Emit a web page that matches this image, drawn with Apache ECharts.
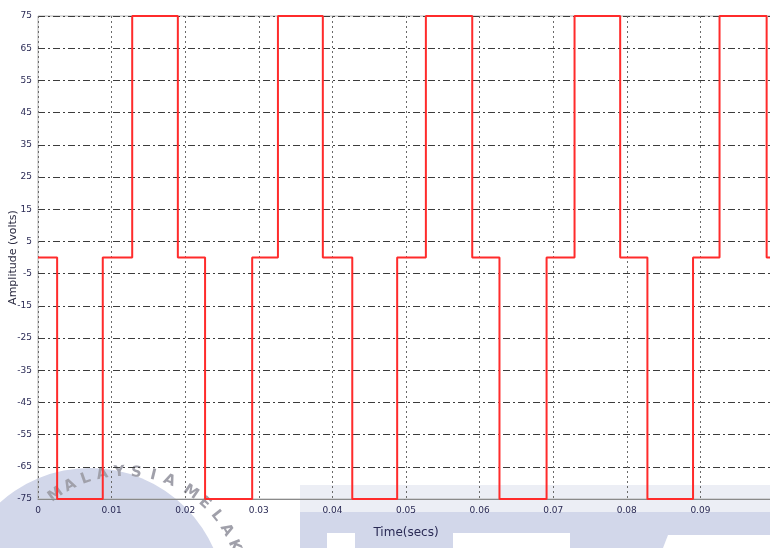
<!DOCTYPE html>
<html>
<head>
<meta charset="utf-8">
<title>Three-level output voltage</title>
<script src="https://cdn.jsdelivr.net/npm/echarts@6/dist/echarts.min.js"></script>
<style>
  html, body { margin: 0; padding: 0; background: #ffffff; }
  #chart { width: 770px; height: 548px; }
</style>
</head>
<body>
<div id="chart"></div>
<script>
// Switching instants (s) and the voltage level that starts at each instant
const switchTimes = [0, 0.0026, 0.0088, 0.0128, 0.0190, 0.0227, 0.0291, 0.0326, 0.0387, 0.0427,
                     0.0488, 0.0527, 0.0590, 0.0627, 0.0691, 0.0729, 0.0791, 0.0828, 0.0890, 0.0926,
                     0.0990, 0.1000];
const voltLevels  = [0, -75, 0, 75, 0, -75, 0, 75, 0, -75,
                     0, 75, 0, -75, 0, 75, 0, -75, 0, 75,
                     0, 0];

// Axis tick labels
const xTickLabels = ['0', '0.01', '0.02', '0.03', '0.04', '0.05', '0.06', '0.07', '0.08', '0.09'];
const yTickValues = [-75, -65, -55, -45, -35, -25, -15, -5, 5, 15, 25, 35, 45, 55, 65, 75];

const xTitle = 'Time(secs)';
const yTitle = 'Amplitude (volts)';

const chart = echarts.init(document.getElementById('chart'), null, { renderer: 'canvas' });

// Background seal: disc, ring lettering and the lower band
const sealColor = '#d2d7ea';
const ringCx = 125, ringCy = 590, ringR = 118;
function ringLetters(word, startDeg, stepDeg) {
  return word.split('').map((ch, i) => {
    const a = (startDeg + i * stepDeg) * Math.PI / 180;
    return {
      type: 'text',
      z: -5,
      x: ringCx + ringR * Math.sin(a),
      y: ringCy - ringR * Math.cos(a),
      rotation: -a,
      style: {
        text: ch,
        fill: '#a0a0aa',
        font: 'bold 15px "DejaVu Sans", sans-serif',
        align: 'center',
        verticalAlign: 'middle'
      }
    };
  });
}

const sealGraphics = [
  { type: 'circle', z: -10, shape: { cx: 90, cy: 603, r: 135 }, style: { fill: sealColor } },
  { type: 'rect', z: -10, shape: { x: 300, y: 485, width: 470, height: 27 }, style: { fill: '#eceef5' } },
  { type: 'rect', z: -10, shape: { x: 300, y: 512, width: 470, height: 36 }, style: { fill: sealColor } },
  { type: 'rect', z: -9, shape: { x: 327, y: 533, width: 28, height: 15 }, style: { fill: '#ffffff' } },
  { type: 'rect', z: -9, shape: { x: 453, y: 533, width: 117, height: 15 }, style: { fill: '#ffffff' } },
  { type: 'polygon', z: -9, shape: { points: [[668, 535], [770, 535], [770, 548], [663, 548]] }, style: { fill: '#ffffff' } }
].concat(ringLetters('MALAYSIA', -36, 8.3), ringLetters('MELAKA', 34, 8.5));

const option = {
  backgroundColor: '#ffffff',
  animation: false,
  grid: {
    left: 38, right: -4, top: 16, bottom: 49,
    outerBoundsMode: 'none',
    containLabel: false,
    show: true,
    borderColor: '#b4b4b4',
    borderWidth: 1,
    backgroundColor: 'transparent'
  },
  xAxis: {
    type: 'value',
    min: 0, max: 0.1, interval: 0.01,
    name: xTitle,
    nameLocation: 'middle',
    nameGap: 28,
    nameMoveOverlap: false,
    nameTextStyle: { color: '#2a2a55', fontSize: 12, fontFamily: 'DejaVu Sans' },
    axisLine: { show: true, onZero: false, lineStyle: { color: '#8a8a8a', width: 1 } },
    axisTick: { show: false },
    axisLabel: {
      color: '#2a2a55', fontSize: 9, fontFamily: 'DejaVu Sans', margin: 7,
      showMaxLabel: false,
      formatter: v => { const i = Math.round(v / 0.01); return xTickLabels[i] !== undefined ? xTickLabels[i] : ''; }
    },
    splitLine: { show: true, lineStyle: { color: '#6a6a6a', type: [2, 3], width: 1 } }
  },
  yAxis: {
    type: 'value',
    min: -75, max: 75, interval: 10,
    name: yTitle,
    nameLocation: 'middle',
    nameGap: 19,
    nameMoveOverlap: false,
    nameRotate: 90,
    nameTextStyle: { color: '#2a2a40', fontSize: 11, fontFamily: 'DejaVu Sans' },
    axisLine: { show: false },
    axisTick: { show: false },
    axisLabel: {
      color: '#2a2a55', fontSize: 9, fontFamily: 'DejaVu Sans', margin: 6,
      formatter: v => (yTickValues.indexOf(Math.round(v)) >= 0 ? String(Math.round(v)) : '')
    },
    splitLine: { show: true, lineStyle: { color: '#3c3c3c', type: [7, 3, 2, 3], width: 1 } }
  },
  graphic: sealGraphics,
  series: [{
    type: 'line',
    step: 'end',
    data: switchTimes.map((t, i) => [t, voltLevels[i]]),
    showSymbol: false,
    lineStyle: { color: '#ff2b2b', width: 2 },
    z: 5
  }]
};

chart.setOption(option);
</script>
</body>
</html>
